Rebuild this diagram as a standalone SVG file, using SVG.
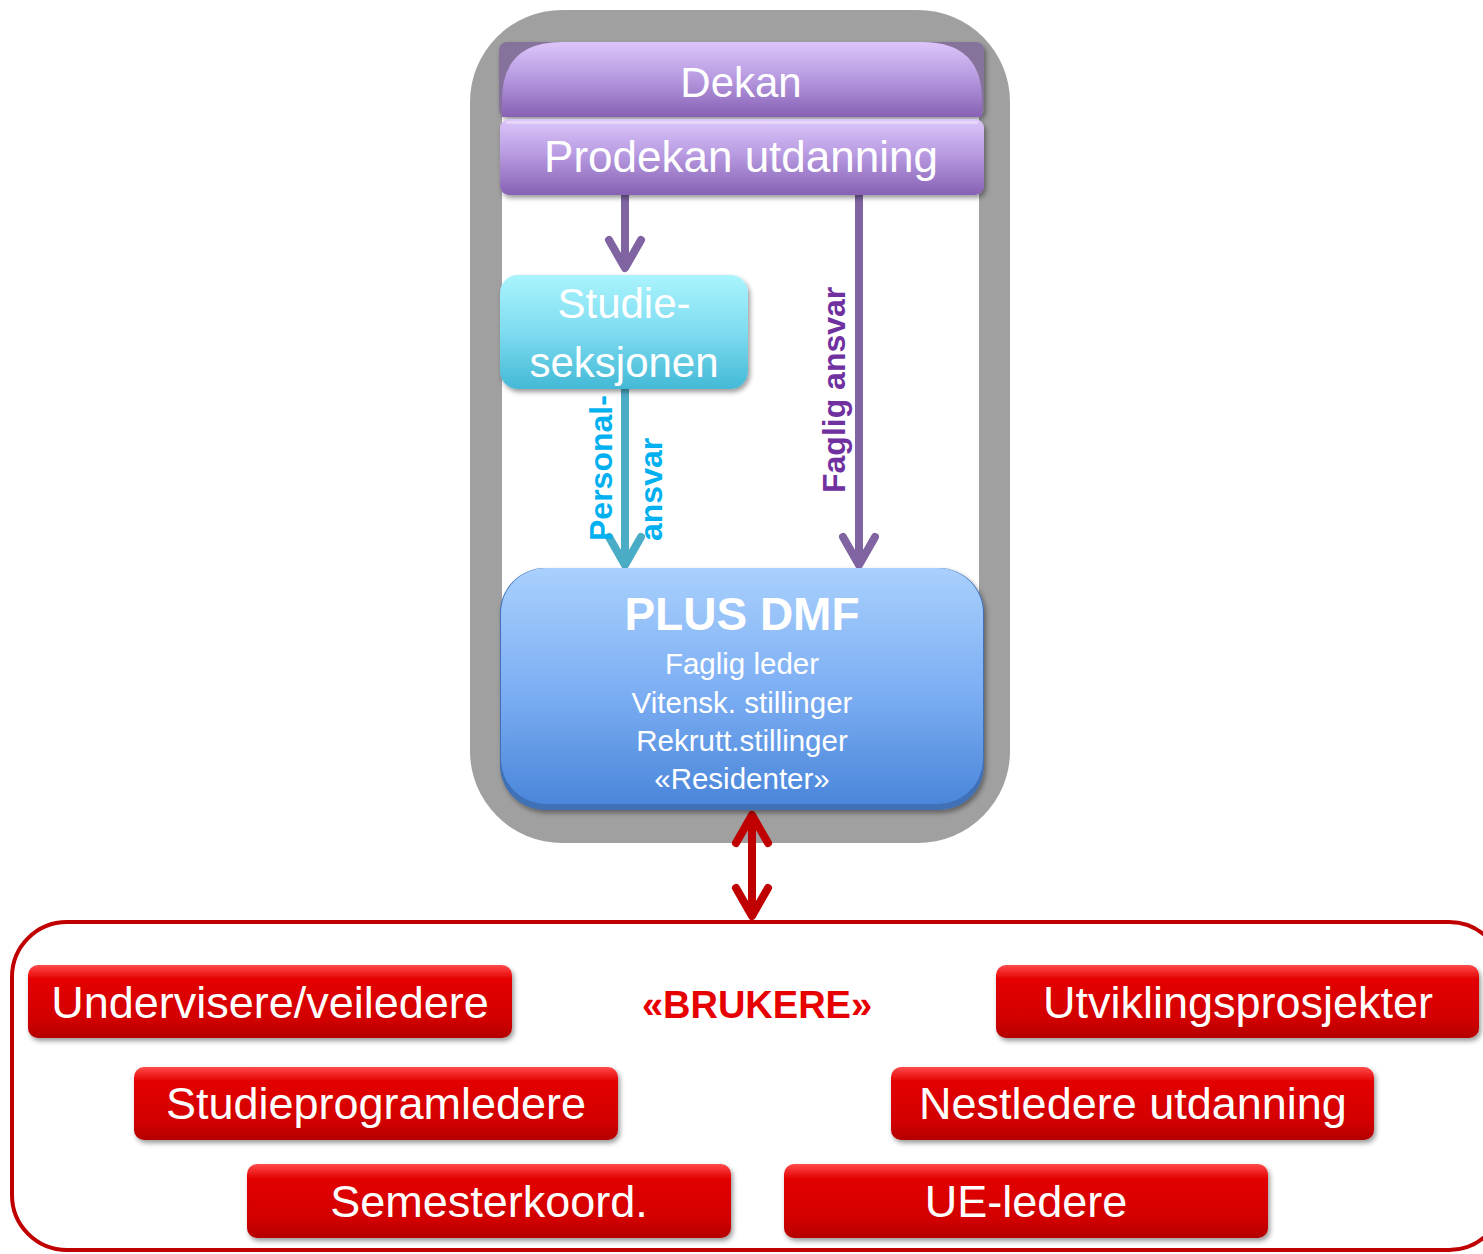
<svg xmlns="http://www.w3.org/2000/svg" width="1483" height="1254" viewBox="0 0 1483 1254">
  <defs>
    <linearGradient id="gPurple" x1="0" y1="0" x2="0" y2="1">
      <stop offset="0" stop-color="#dcc6fa"/>
      <stop offset="0.45" stop-color="#b99ce2"/>
      <stop offset="1" stop-color="#8761b4"/>
    </linearGradient>
    <linearGradient id="gCyan" x1="0" y1="0" x2="0" y2="1">
      <stop offset="0" stop-color="#aaf4fd"/>
      <stop offset="0.5" stop-color="#7fdcf0"/>
      <stop offset="1" stop-color="#43b9d6"/>
    </linearGradient>
    <linearGradient id="gBlue" x1="0" y1="0" x2="0" y2="1">
      <stop offset="0" stop-color="#a9d0fd"/>
      <stop offset="0.5" stop-color="#7fb0f4"/>
      <stop offset="1" stop-color="#4a86da"/>
    </linearGradient>
    <linearGradient id="gRed" x1="0" y1="0" x2="0" y2="1">
      <stop offset="0" stop-color="#ff4a4a"/>
      <stop offset="0.2" stop-color="#e30000"/>
      <stop offset="0.75" stop-color="#d20000"/>
      <stop offset="1" stop-color="#b30000"/>
    </linearGradient>
    <filter id="shadow" x="-10%" y="-20%" width="120%" height="150%">
      <feDropShadow dx="2" dy="3" stdDeviation="2.5" flood-color="#000" flood-opacity="0.4"/>
    </filter>
    <style>
      .lbl { font-family: "Liberation Sans", Arial, sans-serif; fill: #ffffff; text-anchor: middle; }
      .big { font-size: 42px; }
      .red-lbl { font-size: 45px; }
      .small { font-size: 29.5px; }
      .vert { font-family: "Liberation Sans", Arial, sans-serif; font-weight: bold; font-size: 32px; }
      .conn { fill: none; stroke-width: 8; stroke-linecap: round; stroke-linejoin: round; }
      .purple { stroke: #8064a2; }
      .teal { stroke: #4bacc6; }
      .darkred { stroke: #c00000; }
      .redbox { fill: url(#gRed); filter: url(#shadow); }
    </style>
  </defs>

  <rect width="1483" height="1254" fill="#ffffff"/>

  <!-- Grey frame -->
  <g id="frame">
    <rect x="470" y="10" width="540" height="833" rx="92" ry="92" fill="#a0a0a0"/>
    <rect x="502" y="60" width="477" height="640" fill="#ffffff"/>
  </g>

  <!-- Brukere frame -->
  <g id="brukere-frame">
    <rect x="12" y="922" width="1492" height="328" rx="55" ry="55" fill="none" stroke="#c00000" stroke-width="4"/>
    <text x="757" y="1018" font-family="Liberation Sans, Arial, sans-serif" font-weight="bold" font-size="38" fill="#e60000" text-anchor="middle">«BRUKERE»</text>
  </g>

  <!-- Connectors -->
  <g id="connectors">
    <line class="conn purple" x1="625" y1="195" x2="625" y2="266"/>
    <polyline class="conn purple" points="609,240 625,268 641,240"/>
    <line class="conn purple" x1="859" y1="195" x2="859" y2="563"/>
    <polyline class="conn purple" points="843,537 859,565 875,537"/>
    <line class="conn teal" x1="625" y1="390" x2="625" y2="563"/>
    <polyline class="conn teal" points="609,537 625,565 641,537"/>
    <line class="conn darkred" x1="752" y1="816" x2="752" y2="914"/>
    <polyline class="conn darkred" points="736,843 752,815 768,843"/>
    <polyline class="conn darkred" points="736,888 752,916 768,888"/>
    <text class="vert" fill="#00b0f0" transform="translate(612,541) rotate(-90)">Personal-</text>
    <text class="vert" fill="#00b0f0" transform="translate(662,541) rotate(-90)">ansvar</text>
    <text class="vert" fill="#7030a0" font-size="31" transform="translate(845,493) rotate(-90)">Faglig ansvar</text>
  </g>

  <!-- Dekan -->
  <g id="dekan">
    <rect x="499" y="42" width="485" height="75" rx="8" fill="#86739c" filter="url(#shadow)"/>
    <path d="M502,117 L502,100 Q502,42 562,42 L922,42 Q982,42 982,100 L982,117 Z" fill="url(#gPurple)"/>
    <text class="lbl" x="741" y="97" font-size="42">Dekan</text>
  </g>

  <!-- Prodekan -->
  <g id="prodekan">
    <rect x="500" y="119" width="484" height="76" rx="9" fill="url(#gPurple)" filter="url(#shadow)"/>
    <rect x="506" y="121" width="472" height="3" rx="1.5" fill="#ffffff" opacity="0.35"/>
    <text class="lbl" x="741" y="172" font-size="44">Prodekan utdanning</text>
  </g>

  <!-- Studieseksjonen -->
  <g id="studieseksjonen">
    <rect x="500" y="275" width="248" height="114" rx="18" fill="url(#gCyan)" filter="url(#shadow)"/>
    <text class="lbl big" x="624" y="318">Studie-</text>
    <text class="lbl big" x="624" y="377">seksjonen</text>
  </g>

  <!-- PLUS DMF -->
  <g id="plus-dmf">
    <rect x="500" y="568" width="484" height="242" rx="45" fill="#3f6fb5" filter="url(#shadow)"/>
    <rect x="501" y="568" width="482" height="236" rx="45" fill="url(#gBlue)"/>
    <text class="lbl" x="742" y="630" font-size="46" font-weight="bold">PLUS DMF</text>
    <text class="lbl small" x="742" y="674">Faglig leder</text>
    <text class="lbl small" x="742" y="713">Vitensk. stillinger</text>
    <text class="lbl small" x="742" y="751">Rekrutt.stillinger</text>
    <text class="lbl small" x="742" y="789">«Residenter»</text>
  </g>

  <!-- Red user boxes -->
  <g id="undervisere">
    <rect class="redbox" x="28" y="965" width="484" height="73" rx="10"/>
    <text class="lbl red-lbl" x="270" y="1018">Undervisere/veiledere</text>
  </g>
  <g id="utviklingsprosjekter">
    <rect class="redbox" x="996" y="965" width="483" height="73" rx="10"/>
    <text class="lbl red-lbl" x="1238" y="1018">Utviklingsprosjekter</text>
  </g>
  <g id="studieprogramledere">
    <rect class="redbox" x="134" y="1067" width="484" height="73" rx="10"/>
    <text class="lbl red-lbl" x="376" y="1119">Studieprogramledere</text>
  </g>
  <g id="nestledere">
    <rect class="redbox" x="891" y="1067" width="483" height="73" rx="10"/>
    <text class="lbl red-lbl" x="1133" y="1119">Nestledere utdanning</text>
  </g>
  <g id="semesterkoord">
    <rect class="redbox" x="247" y="1164" width="484" height="74" rx="10"/>
    <text class="lbl red-lbl" x="489" y="1217">Semesterkoord.</text>
  </g>
  <g id="ue-ledere">
    <rect class="redbox" x="784" y="1164" width="484" height="74" rx="10"/>
    <text class="lbl red-lbl" x="1026" y="1217">UE-ledere</text>
  </g>
</svg>
